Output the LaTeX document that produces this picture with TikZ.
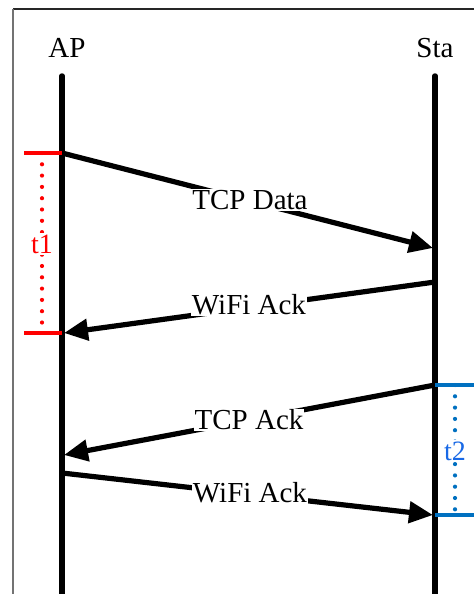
\documentclass[tikz,border=0pt]{standalone}
\usepackage{fontspec}
\setmainfont{Liberation Serif}
\usetikzlibrary{arrows.meta}
\definecolor{barblue}{RGB}{0,112,192}
\definecolor{textblue}{RGB}{25,105,230}
\tikzset{
  lifeline/.style={line width=5.5pt, line cap=round},
  msg/.style={line width=5.2pt, -{Triangle[length=24pt,width=21pt]}},
  msglabel/.style={fill=white, inner sep=1pt, font=\fontsize{29}{30}\selectfont},
  headlabel/.style={inner sep=0pt, font=\fontsize{29}{30}\selectfont},
  redbar/.style={draw=red, line width=3.4pt},
  bluebar/.style={draw=barblue, line width=3.4pt},
  dotline/.style={line width=4.2pt, line cap=round, dash pattern=on 0pt off 11.3pt},
  tlabel/.style={fill=white, inner sep=2pt, font=\fontsize{28}{29}\selectfont}
}
\begin{document}
\begin{tikzpicture}[x=1pt,y=-1pt]
\useasboundingbox (0,0) rectangle (474,594);
% frame
\draw[black!85, line width=1.2pt] (13,9) -- (474,9);
\draw[black!55, line width=1.8pt] (13,9) -- (13,594);
% headers
\node[headlabel] (ap) at (67,48) {AP};
\node[headlabel] (sta) at (435,48) {Sta};
% lifelines
\coordinate (apT) at (62,76);
\coordinate (apB) at (62,598);
\coordinate (staT) at (435,76);
\coordinate (staB) at (435,598);
\draw[lifeline] (apT) -- (apB);
\draw[lifeline] (staT) -- (staB);
% message points
\coordinate (m1s) at (62,153);
\coordinate (m1e) at (433,248);
\coordinate (m2s) at (435,282);
\coordinate (m2e) at (64,333);
\coordinate (m3s) at (435,385);
\coordinate (m3e) at (64,455);
\coordinate (m4s) at (62,473);
\coordinate (m4e) at (433,515);
\draw[msg] (m1s) -- (m1e);
\draw[msg] (m2s) -- (m2e);
\draw[msg] (m3s) -- (m3e);
\draw[msg] (m4s) -- (m4e);
\node[msglabel] (l1) at (250,200) {TCP Data};
\node[msglabel] (l2) at (249,305) {WiFi Ack};
\node[msglabel] (l3) at (249,420) {TCP Ack};
\node[msglabel] (l4) at (250,493) {WiFi Ack};
% t1
\coordinate (r1a) at (24,153);
\coordinate (r1b) at (62,153);
\coordinate (r2a) at (24,333);
\coordinate (r2b) at (62,333);
\coordinate (r1m) at (42,153);
\coordinate (r2m) at (42,333);
\draw[red, dotline] (r1m) -- (r2m);
\draw[redbar] (r1a) -- (r1b);
\draw[redbar] (r2a) -- (r2b);
\node[tlabel, text=red] (t1) at (42,244) {t1};
% t2
\coordinate (b1a) at (435,385);
\coordinate (b1b) at (474,385);
\coordinate (b2a) at (435,515);
\coordinate (b2b) at (474,515);
\coordinate (b1m) at (455,385);
\coordinate (b2m) at (455,515);
\draw[barblue, dotline] (b1m) -- (b2m);
\draw[bluebar] (b1a) -- (b1b);
\draw[bluebar] (b2a) -- (b2b);
\node[tlabel, text=textblue] (t2) at (455,451) {t2};
\end{tikzpicture}
\end{document}
